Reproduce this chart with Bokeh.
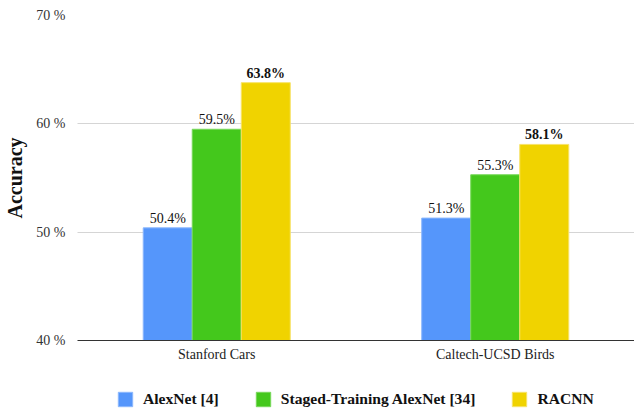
from bokeh.plotting import figure
from bokeh.layouts import column
from bokeh.models import FactorRange, ColumnDataSource, Legend, LegendItem, FixedTicker, Range1d
from bokeh.transform import dodge
from bokeh.core.properties import value
from bokeh.embed import file_html
from bokeh.resources import INLINE

categories = ["Stanford Cars", "Caltech-UCSD Birds"]
series_names = ["AlexNet [4]", "Staged-Training AlexNet [34]", "RACNN"]
alexnet = [50.4, 51.3]
staged = [59.5, 55.3]
racnn = [63.8, 58.1]
y_ticks = [40, 50, 60, 70]
y_tick_labels = ["40 %", "50 %", "60 %", "70 %"]

colors = ["#5596fb", "#44c81c", "#f0d300"]
outline = ["#8cb8fd", "#78d85a", "#f7e36a"]
FONT = "Liberation Serif"

p = figure(width=634, height=364, output_backend="svg", toolbar_location=None,
           x_range=FactorRange(factors=categories), y_range=Range1d(40, 70),
           min_border_top=15, min_border_left=77, min_border_right=0, min_border_bottom=24)

src = ColumnDataSource(dict(cat=categories, a=alexnet, s=staged, r=racnn,
                            al=[f"{v}%" for v in alexnet],
                            sl=[f"{v}%" for v in staged],
                            rl=[f"{v}%" for v in racnn]))

bw = 0.176
offs = [-bw, 0, bw]
keys = ["a", "s", "r"]
lkeys = ["al", "sl", "rl"]
series = [alexnet, staged, racnn]
for i in range(3):
    p.vbar(x=dodge("cat", offs[i], range=p.x_range), top=keys[i], bottom=40, width=bw,
           source=src, fill_color=colors[i], line_color=outline[i], line_width=1)
    p.text(x=dodge("cat", offs[i], range=p.x_range), y=keys[i], text=lkeys[i], source=src,
           text_align="center", text_baseline="bottom", y_offset=-2,
           text_font=value(FONT), text_font_size="14px",
           text_font_style="bold" if i == 2 else "normal", text_color="#111111")

p.outline_line_color = None
p.xgrid.grid_line_color = None
p.ygrid.grid_line_color = "#aaaaaa"
p.ygrid.grid_line_dash = "1 1"
p.ygrid.grid_line_width = 1

p.yaxis.ticker = FixedTicker(ticks=y_ticks)
p.yaxis.major_label_overrides = {t: l for t, l in zip(y_ticks, y_tick_labels)}
p.yaxis.axis_line_color = None
p.yaxis.major_tick_line_color = None
p.yaxis.minor_tick_line_color = None
p.yaxis.major_tick_out = 0
p.yaxis.major_tick_in = 0
p.yaxis.major_label_text_font = FONT
p.yaxis.major_label_text_font_size = "14px"
p.yaxis.major_label_text_color = "#333333"
p.yaxis.major_label_standoff = 12
p.yaxis.axis_label = "Accuracy"
p.yaxis.axis_label_text_font = FONT
p.yaxis.axis_label_text_font_size = "20px"
p.yaxis.axis_label_text_font_style = "bold"
p.yaxis.axis_label_text_color = "#111111"
p.yaxis.axis_label_standoff = 7

p.xaxis.axis_line_color = "#333333"
p.xaxis.axis_line_width = 1
p.xaxis.major_tick_line_color = None
p.xaxis.minor_tick_line_color = None
p.xaxis.major_tick_out = 0
p.xaxis.major_tick_in = 0
p.xaxis.major_label_text_font = FONT
p.xaxis.major_label_text_font_size = "14px"
p.xaxis.major_label_text_color = "#222222"
p.xaxis.major_label_standoff = 6

# legend strip (its frame is aligned with the chart's frame by the column layout)
lf = figure(width=634, height=46, output_backend="svg", toolbar_location=None,
            x_range=Range1d(0, 1), y_range=Range1d(0, 1),
            x_axis_type=None, y_axis_type=None,
            min_border=0, min_border_left=0, min_border_right=0, min_border_top=0, min_border_bottom=0)
lf.outline_line_color = None
lf.xgrid.visible = False
lf.ygrid.visible = False
items = []
for i in range(3):
    # the swatch renderers hold the series values, which fall outside this strip's 0..1 range
    ds = ColumnDataSource(dict(x=series[i], top=series[i]))
    r = lf.vbar(x="x", top="top", width=0.1, source=ds,
                fill_color=colors[i], line_color=outline[i], line_width=1)
    items.append(LegendItem(label=series_names[i], renderers=[r]))

legend = Legend(items=items, orientation="horizontal", location=(39, 2),
                label_text_font=FONT, label_text_font_size="15.6px", label_text_font_style="bold",
                label_text_color="#111111", label_height=14,
                glyph_width=18, glyph_height=18, label_standoff=9, spacing=35,
                border_line_color=None, background_fill_alpha=0, margin=0, padding=0)
lf.add_layout(legend, "center")

layout = column(p, lf, spacing=0)
open("out.html", "w").write(file_html(layout, INLINE))
